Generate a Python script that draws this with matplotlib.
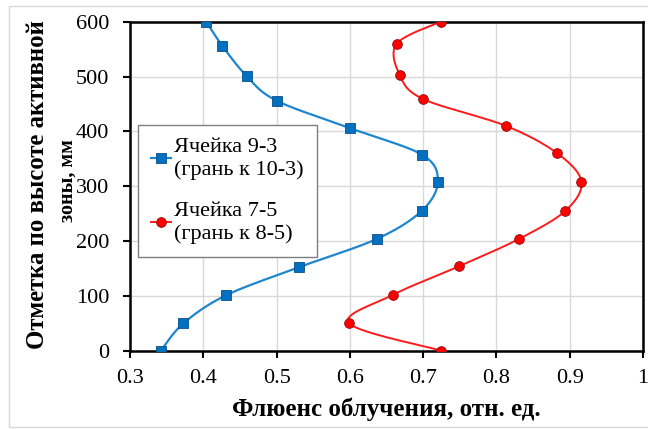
import numpy as np
import matplotlib
matplotlib.use("Agg")
import matplotlib.pyplot as plt
from matplotlib.patches import Rectangle

plt.rcParams['font.family'] = ['Liberation Serif', 'DejaVu Serif']

# Ячейка 9-3 (грань к 10-3)
blue_x = [0.342, 0.373, 0.431, 0.530, 0.637, 0.698, 0.720, 0.699, 0.600, 0.500, 0.459, 0.426, 0.404]
blue_y = [0, 50, 101, 152, 204, 255, 308, 357, 406, 456, 501, 556, 600]

# Ячейка 7-5 (грань к 8-5)
red_x = [0.725, 0.599, 0.659, 0.749, 0.831, 0.894, 0.916, 0.883, 0.813, 0.700, 0.668, 0.664, 0.724]
red_y = [0, 50, 102, 154, 204, 255, 308, 360, 410, 459, 503, 560, 600]

labels = ["Ячейка 9-3\n(грань к 10-3)", "Ячейка 7-5\n(грань к 8-5)"]
x_ticks = [0.3, 0.4, 0.5, 0.6, 0.7, 0.8, 0.9, 1.0]
x_ticklabels = ["0.3", "0.4", "0.5", "0.6", "0.7", "0.8", "0.9", "1"]
y_ticks = [0, 100, 200, 300, 400, 500, 600]


def smooth(ax, xs, ys, n=30):
    # Excel-like smoothed line: Catmull-Rom bezier in screen space
    pts = ax.transData.transform(np.column_stack([xs, ys]))
    p = np.vstack([pts[0], pts, pts[-1]])
    out = []
    t = np.linspace(0, 1, n)[:, None]
    for i in range(1, len(p) - 2):
        p0, p1, p2, p3 = p[i - 1], p[i], p[i + 1], p[i + 2]
        c1 = p1 + (p2 - p0) / 6
        c2 = p2 - (p3 - p1) / 6
        seg = ((1 - t) ** 3) * p1 + 3 * ((1 - t) ** 2) * t * c1 + 3 * (1 - t) * t ** 2 * c2 + t ** 3 * p2
        out.append(seg)
    out = np.vstack(out)
    d = ax.transData.inverted().transform(out)
    return d[:, 0], d[:, 1]


fig = plt.figure(figsize=(6.48, 4.29), dpi=100)
ax = fig.add_axes([0.2006, 0.1825, 0.7917, 0.7669])
ax.set_xlim(0.3, 1.0)
ax.set_ylim(0, 600)

fig.patches.append(Rectangle((9 / 648, 2 / 429), 1.2, 421 / 429, transform=fig.transFigure,
                             fill=False, ec="#d9d9d9", lw=1.0))

sx, sy = smooth(ax, blue_x, blue_y)
ax.plot(sx, sy, color="#1c86d0", lw=1.6, zorder=3)
ax.plot(blue_x, blue_y, ls="none", marker="s", ms=6.5, mfc="#0070c0", mec="#0a4f8a",
        mew=0.6, zorder=4)
ax.plot([], [], color="#1c86d0", lw=1.6, marker="s", ms=6.5, mfc="#0070c0",
        mec="#0a4f8a", mew=0.6, label=labels[0])

sx, sy = smooth(ax, red_x, red_y)
ax.plot(sx, sy, color="#ff1a1a", lw=1.4, zorder=3)
ax.plot(red_x, red_y, ls="none", marker="o", ms=7, mfc="#ff0000", mec="#8b1010",
        mew=0.6, zorder=4)
ax.plot([], [], color="#ff1a1a", lw=1.4, marker="o", ms=7, mfc="#ff0000",
        mec="#8b1010", mew=0.6, label=labels[1])

ax.set_xticks(x_ticks)
ax.set_xticklabels(x_ticklabels)
ax.set_yticks(y_ticks)
ax.tick_params(direction="out", length=5, width=1.5, labelsize=16, color="black")
ax.tick_params(axis="x", pad=8)
ax.tick_params(axis="y", pad=10)
ax.grid(True, color="#d9d9d9", lw=1.0)
ax.set_axisbelow(True)
for s in ax.spines.values():
    s.set_linewidth(1.8)
    s.set_color("black")

ax.set_xlabel("Флюенс облучения, отн. ед.", fontsize=18, fontweight="bold", labelpad=7)

# y label drawn as two lines so the short second line sits close to the ticks
fig.text(38 / 648, 1 - 185 / 429, "Отметка по высоте активной", rotation=90,
         ha="center", va="center", fontsize=17.8, fontweight="bold")
fig.text(68 / 648, 1 - 181 / 429, "зоны, мм", rotation=90,
         ha="center", va="center", fontsize=14.5, fontweight="bold")

leg = ax.legend(loc="upper left", bbox_to_anchor=(0.0156, 0.686), fontsize=16,
                frameon=True, fancybox=False, edgecolor="#7f7f7f", framealpha=1,
                handlelength=0.9, handletextpad=0.1, labelspacing=1.0, borderpad=0.6,
                borderaxespad=0)
leg.get_frame().set_linewidth(1.0)

fig.savefig("out.png", dpi=100)
